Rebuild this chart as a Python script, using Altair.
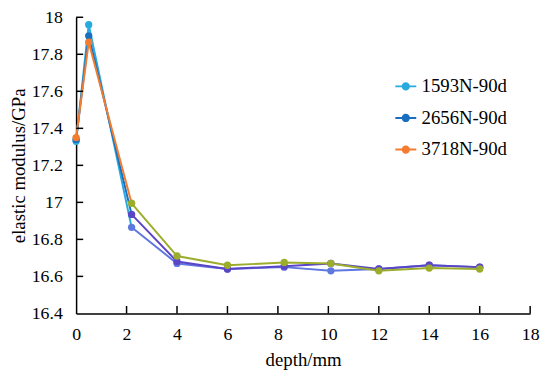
import altair as alt
import pandas as pd

depth = [0, 0.5, 2.2, 4, 6, 8.25, 10.1, 12, 14, 16]
s1593 = [17.33, 17.96, 16.865, 16.67, 16.64, 16.65, 16.63, 16.64, 16.66, 16.65]
s2656 = [17.34, 17.90, 16.935, 16.68, 16.64, 16.655, 16.67, 16.64, 16.66, 16.65]
s3718 = [17.35, 17.865, 16.995, 16.71, 16.66, 16.675, 16.67, 16.63, 16.645, 16.64]
series = ["1593N-90d", "2656N-90d", "3718N-90d"]
colors = ["#29aade", "#1a6ec0", "#f47c30"]
# the tail of each curve (from ~2 mm on) is drawn in a shifted hue in the reference
tail_colors = ["#5f78e0", "#5a45c6", "#9cad2c"]
x_labels = [0, 2, 4, 6, 8, 10, 12, 14, 16, 18]
y_labels = [16.4, 16.6, 16.8, 17.0, 17.2, 17.4, 17.6, 17.8, 18.0]
x_ticks = [2, 4, 6, 8, 10, 12, 14, 16, 18]
y_ticks = [16.6, 16.8, 17.0, 17.2, 17.4, 17.6, 17.8, 18.0]
SPLIT = 2  # index of the point where the hue changes

rows = []
for name, vals in zip(series, [s1593, s2656, s3718]):
    for i, (d, v) in enumerate(zip(depth, vals)):
        rows.append({"depth": d, "E": v, "series": name, "order": i,
                     "head": i <= SPLIT, "tail": i >= SPLIT,
                     "headpt": i < SPLIT})
df = pd.DataFrame(rows)

FONT = "Liberation Serif"
xs = alt.Scale(domain=[0, 18], nice=False)
ys = alt.Scale(domain=[16.4, 18], nice=False, zero=False)

x_axis = alt.Axis(values=x_labels, title="depth/mm", tickSize=0, labelFlush=False,
                  labelPadding=12, titlePadding=8, grid=False, labelOverlap=False)
y_axis = alt.Axis(values=y_labels, title="elastic modulus/GPa", tickSize=0, labelFlush=False,
                  labelPadding=14, titlePadding=3, grid=False, format=".1~f",
                  labelOverlap=False)
X = alt.X("depth:Q", scale=xs, axis=x_axis)
Y = alt.Y("E:Q", scale=ys, axis=y_axis)

legend = alt.Legend(title=None, orient="none", legendX=322, legendY=58,
                    symbolType="M-1,0L1,0M-0.3,0a0.3,0.3 0 1,0 0.6,0a0.3,0.3 0 1,0 -0.6,0",
                    symbolSize=450, symbolStrokeWidth=2,
                    labelFont=FONT, labelFontSize=19, rowPadding=10,
                    labelLimit=200, labelColor="black")
head_color = alt.Color("series:N", scale=alt.Scale(domain=series, range=colors), legend=legend)
tail_color = alt.Color("series:N", scale=alt.Scale(domain=series, range=tail_colors), legend=None)

base = alt.Chart(df)
head_line = base.transform_filter("datum.head").mark_line(strokeWidth=2).encode(
    x=X, y=Y, color=head_color, order="order:Q")
head_pts = base.transform_filter("datum.headpt").mark_circle(size=55, opacity=1).encode(
    x=X, y=Y, color=head_color)
tail_line = base.transform_filter("datum.tail").mark_line(strokeWidth=2).encode(
    x=X, y=Y, color=tail_color, order="order:Q")
tail_pts = base.transform_filter("datum.tail").mark_circle(size=55, opacity=1).encode(
    x=X, y=Y, color=tail_color)

xt = pd.DataFrame({"depth": x_ticks, "E": [16.4] * len(x_ticks), "E2": [16.44] * len(x_ticks)})
yt = pd.DataFrame({"E": y_ticks, "depth": [0] * len(y_ticks), "depth2": [0.28] * len(y_ticks)})
xtick = alt.Chart(xt).mark_rule(color="black", strokeWidth=1.5).encode(x=X, y=Y, y2="E2:Q")
ytick = alt.Chart(yt).mark_rule(color="black", strokeWidth=1.5).encode(x=X, y=Y, x2="depth2:Q")

chart = alt.layer(
    alt.layer(head_line, head_pts),
    alt.layer(tail_line, tail_pts),
    xtick, ytick,
).resolve_scale(color="independent").properties(
    width=460, height=300,
    autosize=alt.AutoSizeParams(type="none"),
    padding={"left": 69, "top": 7, "right": 12, "bottom": 60},
).configure_view(stroke=None).configure_axis(
    labelFont=FONT, titleFont=FONT, labelFontSize=18, titleFontSize=19,
    labelColor="black", titleColor="black", titleFontWeight="normal",
    domainColor="black", domainWidth=1.5,
)

chart.save("out.html", embed_options={"renderer": "svg", "actions": False})
